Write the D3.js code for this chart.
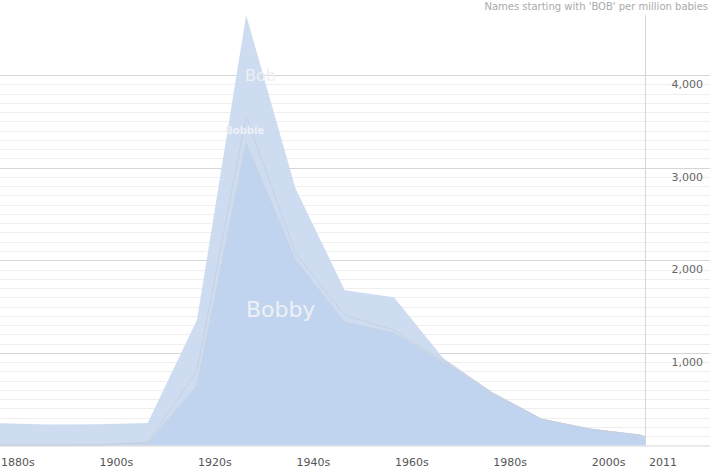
<!DOCTYPE html>
<html>
<head>
<meta charset="utf-8">
<script src="https://cdn.jsdelivr.net/npm/d3@7"></script>
<style>
  body { margin: 0; background: #fff; }
  svg { display: block; font-family: "DejaVu Sans", Verdana, sans-serif; }
</style>
</head>
<body>
<svg id="chart"></svg>
<script>
const width = 713;
const height = 473;

// decade values, names per million babies
const years  = [1880, 1890, 1900, 1910, 1920, 1930, 1940, 1950, 1960, 1970, 1980, 1990, 2000, 2010, 2011];
const bobby  = [3, 3, 5, 25, 642, 3260, 2001, 1330, 1214, 900, 560, 283, 175, 112, 93];
const bobbie = [2, 2, 3, 12, 165, 294, 76, 78, 32, 20, 8, 2, 1, 1, 1];
const bob    = [235, 223, 222, 206, 547, 1090, 701, 269, 355, 24, 7, 5, 4, 2, 1];

const names = ["Bobby", "Bobbie", "Bob"];
const decadeTicks = [1880, 1900, 1920, 1940, 1960, 1980, 2000];
const decadeLabels = ["1880s", "1900s", "1920s", "1940s", "1960s", "1980s", "2000s"];
const lastYear = 2011;
const majorTicks = [1000, 2000, 3000, 4000];

// where the series names sit (year, value)
const labelYears = [1937, 1929.7, 1932.9];
const labelValues = [1390, 3360, 3930];
const labelSizes = [22, 10, 16];

const table = years.map((y, i) => ({ year: y, Bobby: bobby[i], Bobbie: bobbie[i], Bob: bob[i] }));

const svg = d3.select("#chart").attr("width", width).attr("height", height);

const x = d3.scaleLinear().domain([1880, 2011]).range([0, 645]);
const y = d3.scaleLinear().domain([0, 4000]).range([445.5, 75]);

// grid
const minor = d3.range(100, 4000, 100).filter(v => v % 1000 !== 0);
svg.append("g").selectAll("line").data(minor).enter().append("line")
  .attr("x1", 0).attr("x2", 710)
  .attr("y1", d => Math.round(y(d)) + 0.5).attr("y2", d => Math.round(y(d)) + 0.5)
  .attr("stroke", "#efefef");
svg.append("g").selectAll("line").data(majorTicks).enter().append("line")
  .attr("x1", 0).attr("x2", 710)
  .attr("y1", d => Math.round(y(d)) + 0.5).attr("y2", d => Math.round(y(d)) + 0.5)
  .attr("stroke", "#d6d6d6");

// stacked areas
const stack = d3.stack().keys(names);
const series = stack(table);
const colors = { Bobby: "#c0d4f0", Bobbie: "#cddcf1", Bob: "#cddcf1" };

const area = d3.area()
  .x(d => x(d.data.year))
  .y0(d => y(d[0]))
  .y1(d => y(d[1]));
const topLine = d3.line()
  .x(d => x(d.data.year))
  .y(d => y(d[1]));

svg.append("g").selectAll("path").data(series).enter().append("path")
  .attr("d", area)
  .attr("fill", d => colors[d.key]);

svg.append("g").selectAll("path").data(series.filter(s => s.key !== "Bob")).enter().append("path")
  .attr("d", topLine)
  .attr("fill", "none")
  .attr("stroke", "#c6d0df")
  .attr("stroke-width", 1);

// baseline and end marker
svg.append("line")
  .attr("x1", 0).attr("x2", 710)
  .attr("y1", y(0) + 0.5).attr("y2", y(0) + 0.5)
  .attr("stroke", "#d6d6d6");
svg.append("line")
  .attr("x1", Math.round(x(lastYear)) + 0.5).attr("x2", Math.round(x(lastYear)) + 0.5)
  .attr("y1", 15).attr("y2", y(0))
  .attr("stroke", "#d6d6d6");

// series labels
svg.append("g").selectAll("text").data(names).enter().append("text")
  .attr("x", (d, i) => x(labelYears[i]))
  .attr("y", (d, i) => y(labelValues[i]))
  .attr("text-anchor", "middle")
  .attr("font-size", (d, i) => labelSizes[i])
  .attr("font-weight", d => d === "Bobbie" ? "bold" : "normal")
  .attr("fill", "#eef0f4")
  .text(d => d);

// y labels
svg.append("g").selectAll("text").data(majorTicks).enter().append("text")
  .attr("x", 703)
  .attr("y", d => y(d) + 13)
  .attr("text-anchor", "end")
  .attr("font-size", 11)
  .attr("fill", "#666")
  .text(d => d3.format(",")(d));

// x labels
svg.append("g").selectAll("text").data(decadeTicks).enter().append("text")
  .attr("x", d => x(d) + 1)
  .attr("y", 466)
  .attr("font-size", 11)
  .attr("fill", "#555")
  .text((d, i) => decadeLabels[i]);
svg.append("text")
  .attr("x", x(lastYear) + 4)
  .attr("y", 466)
  .attr("font-size", 11)
  .attr("fill", "#555")
  .text(lastYear);

// title
svg.append("text")
  .attr("x", 708).attr("y", 10)
  .attr("text-anchor", "end")
  .attr("font-size", 10)
  .attr("fill", "#aaa")
  .text("Names starting with 'BOB' per million babies");
</script>
</body>
</html>
